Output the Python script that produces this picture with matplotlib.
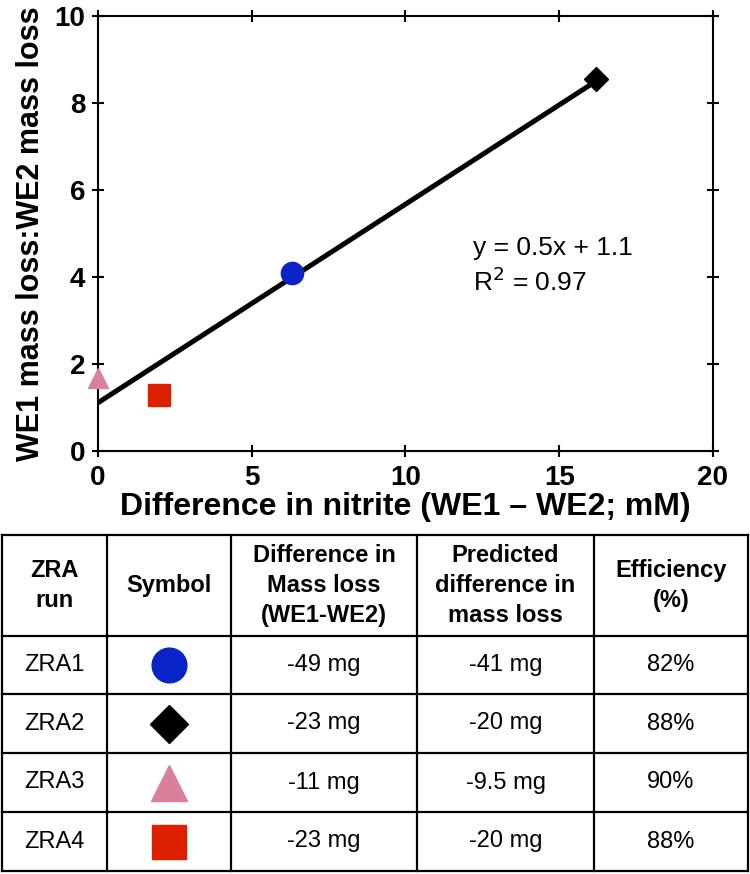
import numpy as np
import matplotlib
matplotlib.use("Agg")
import matplotlib.pyplot as plt

plt.rcParams["font.family"] = ["Liberation Sans", "DejaVu Sans"]

# data
runs = ["ZRA1", "ZRA2", "ZRA3", "ZRA4"]
nitrite_diff = [6.3, 16.2, 0.0, 2.0]
mass_ratio = [4.1, 8.55, 1.68, 1.29]
markers = ["o", "D", "^", "s"]
colors = ["#0a24c8", "#000000", "#d9809a", "#dc2000"]
mass_loss_diff = ["-49 mg", "-23 mg", "-11 mg", "-23 mg"]
predicted_diff = ["-41 mg", "-20 mg", "-9.5 mg", "-20 mg"]
efficiency = ["82%", "88%", "90%", "88%"]
headers = ["ZRA\nrun", "Symbol", "Difference in\nMass loss\n(WE1-WE2)",
           "Predicted\ndifference in\nmass loss", "Efficiency\n(%)"]

plot_sizes = {"o": 16, "D": 12, "^": 15, "s": 16}
table_sizes = {"o": 25, "D": 19, "^": 26, "s": 25}

W, H = 750, 874
fig = plt.figure(figsize=(W / 100, H / 100), dpi=100)

# scatter plot
ax = fig.add_axes([98 / W, (H - 451) / H, 615 / W, 435 / H])
slope, intercept = np.polyfit(nitrite_diff, mass_ratio, 1)
xs = np.array([0, max(nitrite_diff)])
ax.plot(xs, slope * xs + intercept, color="black", lw=3.6, solid_capstyle="butt", zorder=3)
for x, y, m, c in zip(nitrite_diff, mass_ratio, markers, colors):
    ax.plot(x, y, marker=m, ms=plot_sizes[m], color=c, mec=c, ls="none", clip_on=False, zorder=4)

ax.set_xlim(0, 20)
ax.set_ylim(0, 10)
ax.set_xticks([0, 5, 10, 15, 20])
ax.set_yticks([0, 2, 4, 6, 8, 10])
ax.tick_params(direction="inout", length=8, width=1.5, labelsize=20, top=True, right=True,
               labeltop=False, labelright=False)
ax.tick_params(axis="x", pad=6)
ax.tick_params(axis="y", pad=5)
for lab in ax.get_xticklabels() + ax.get_yticklabels():
    lab.set_fontweight("bold")
for s in ax.spines.values():
    s.set_linewidth(1.5)
ax.set_xlabel("Difference in nitrite (WE1 \u2013 WE2; mM)", fontsize=23, fontweight="bold", labelpad=1)
ax.set_ylabel("WE1 mass loss:WE2 mass loss", fontsize=22, fontweight="bold", labelpad=6)
ax.text(12.2, 4.67, "y = 0.5x + 1.1", fontsize=19, va="center")
ax.text(12.2, 3.89, "R$^2$ = 0.97", fontsize=19, va="center")

# table
tx = fig.add_axes([0, 0, 1, 1])
tx.set_xlim(0, W)
tx.set_ylim(H, 0)
tx.axis("off")
col_edges = [2, 107, 231, 417, 594, 748]
row_edges = [535, 636, 694, 753, 812, 871]
for xe in col_edges:
    tx.plot([xe, xe], [row_edges[0], row_edges[-1]], color="black", lw=1.6)
for ye in row_edges:
    tx.plot([col_edges[0], col_edges[-1]], [ye, ye], color="black", lw=1.6)

cx = [(a + b) / 2 for a, b in zip(col_edges[:-1], col_edges[1:])]
cy = [(a + b) / 2 for a, b in zip(row_edges[:-1], row_edges[1:])]
for x, h in zip(cx, headers):
    tx.text(x, cy[0], h, ha="center", va="center", fontsize=17, fontweight="bold", linespacing=1.4)
for i, r in enumerate(runs):
    y = cy[i + 1]
    tx.text(cx[0], y, r, ha="center", va="center", fontsize=17)
    tx.plot(cx[1], y, marker=markers[i], ms=table_sizes[markers[i]], color=colors[i], mec=colors[i], ls="none")
    tx.text(cx[2], y, mass_loss_diff[i], ha="center", va="center", fontsize=17)
    tx.text(cx[3], y, predicted_diff[i], ha="center", va="center", fontsize=17)
    tx.text(cx[4], y, efficiency[i], ha="center", va="center", fontsize=17)

fig.savefig("out.png", dpi=100)
